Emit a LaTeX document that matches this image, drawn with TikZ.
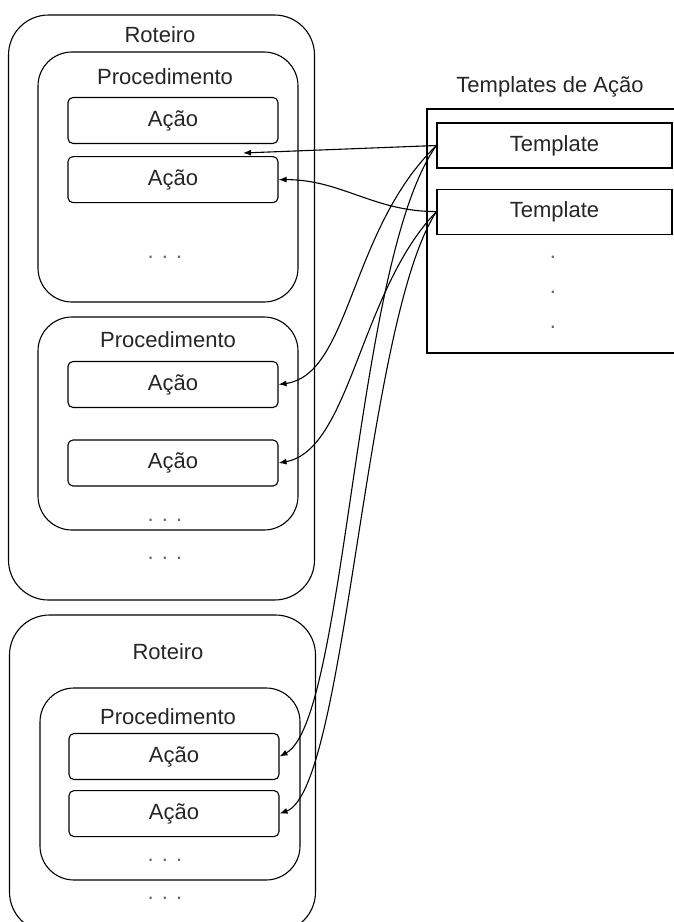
\documentclass[tikz,border=0pt]{standalone}
\usepackage{fontspec}
\setmainfont{Liberation Sans}
\usetikzlibrary{arrows.meta,positioning}

\begin{document}
\begin{tikzpicture}[x=1pt,y=-1pt,line width=1.1pt,>={Latex[length=8pt,width=6pt]}]
      \tikzstyle{roteiro}=[rectangle, draw, rounded corners=40pt, inner sep=0pt, minimum width=306pt]
      \tikzstyle{proc}=[rectangle, draw, rounded corners=34pt, inner sep=0pt, minimum width=260pt]
      \tikzstyle{acao}=[rectangle, draw, rounded corners=5pt, inner sep=0pt, minimum width=210pt, minimum height=46pt, font=\fontsize{22}{26}\selectfont]
      \tikzstyle{tmpl}=[rectangle, draw, inner sep=0pt, minimum width=235pt, minimum height=45pt, font=\fontsize{22}{26}\selectfont]
      \tikzstyle{txt}=[inner sep=0pt, text=black!85, font=\fontsize{22}{26}\selectfont]
      \tikzstyle{dots}=[inner sep=0pt, text=black!60, font=\fontsize{22}{26}\selectfont]
      \useasboundingbox (0,0) rectangle (674,922);
      \fill[white] (0,0) rectangle (674,922);
      \clip (0,0) rectangle (674,922);
      % primeiro roteiro
      \node[roteiro, minimum height=585pt] (R1) at (161.5,307.5) {};
      \node[txt] (R1t) at (160,35) {Roteiro};
      \node[proc, minimum height=250pt] (P1) at (168,177) {};
      \node[txt] (P1t) at (165,77) {Procedimento};
      \node[acao, text=black!85] (A1) at (173,120.5) {Ação};
      \node[acao, text=black!85, below=12pt of A1] (A2) {Ação};
      \node[dots] (D1) at (165,257) {. . .};
      \node[proc, minimum height=213pt] (P2) at (168,423.5) {};
      \node[txt] (P2t) at (168,340) {Procedimento};
      \node[acao, text=black!85] (A3) at (173,384.5) {Ação};
      \node[acao, text=black!85] (A4) at (173,463) {Ação};
      \node[dots] (D2) at (165,520) {. . .};
      \node[dots] (D3) at (165,558) {. . .};
      % segundo roteiro
      \node[roteiro, minimum height=317pt] (R2) at (162.5,773.5) {};
      \node[txt] (R2t) at (168,652) {Roteiro};
      \node[proc, minimum height=192pt] (P3) at (170,784) {};
      \node[txt] (P3t) at (168,717) {Procedimento};
      \node[acao, text=black!85] (A5) at (174,756.5) {Ação};
      \node[acao, text=black!85, below=10pt of A5] (A6) {Ação};
      \node[dots] (D4) at (165,860) {. . .};
      \node[dots] (D5) at (165,898) {. . .};
      % templates
      \node[txt] (TAt) at (550,87) {Templates de Ação};
      \node[rectangle, draw, minimum width=260pt, minimum height=244pt] (TA) at (557,231) {};
      \node[tmpl, text=black!85] (T1) at (554.5,145.5) {Template};
      \node[tmpl, text=black!85, below=20pt of T1] (T2) {Template};
      \node[dots] (V1) at (553,257) {.};
      \node[dots] (V2) at (553,292) {.};
      \node[dots] (V3) at (553,327) {.};
      \coordinate (t1end) at (243,153);
      \draw [->] (T1.west) -- (t1end);
      \draw [->] (T2.west) to[out=180,in=0] (A2.east);
      \draw [->] (T1.west) .. controls +(-87,84) and +(72,-10) .. (A3.east);
      \draw [->] (T2.west) .. controls +(-77,80) and +(72,-13) .. (A4.east);
      \draw [->] (T1.west) .. controls +(-82,114) and +(67,-36) .. (A5.east);
      \draw [->] (T2.west) .. controls +(-72,110) and +(67,-24) .. (A6.east);
    \end{tikzpicture}
\end{document}
